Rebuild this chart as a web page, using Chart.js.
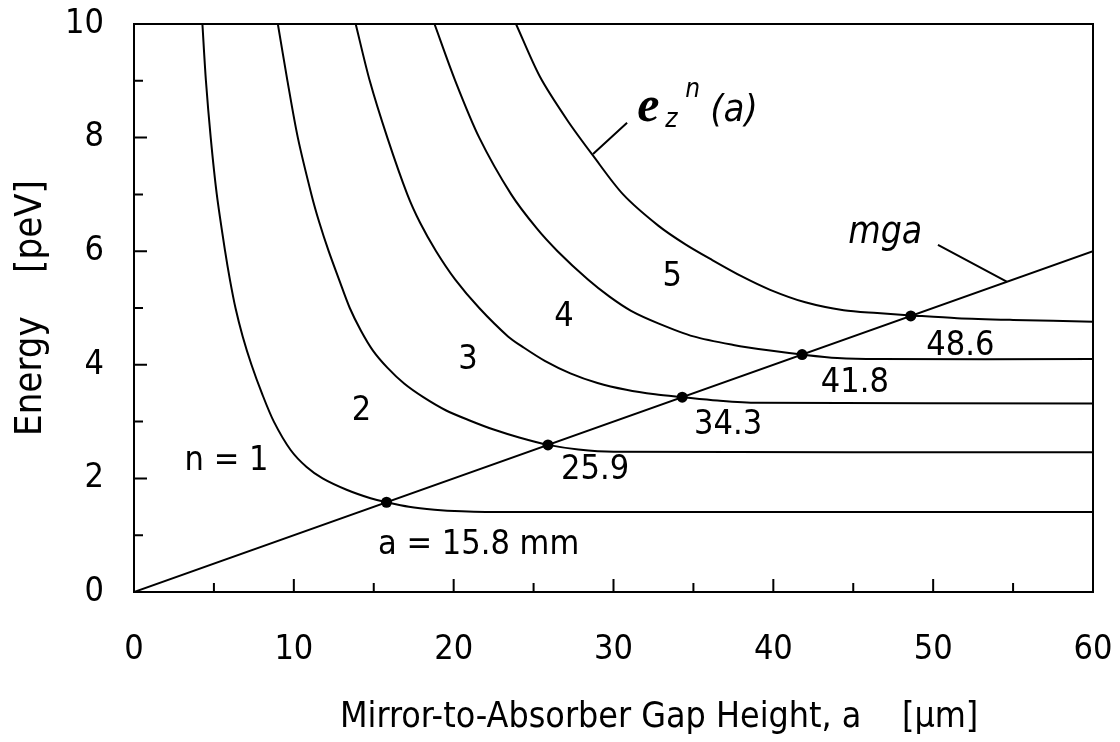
<!DOCTYPE html>
<html>
<head>
<meta charset="utf-8">
<script src="https://cdn.jsdelivr.net/npm/chart.js@4.4.0/dist/chart.umd.min.js"></script>
<style>
  body { margin: 0; background: #fff; }
  #wrap { width: 1120px; height: 742px; }
</style>
</head>
<body>
<div id="wrap"><canvas id="myChart" width="1120" height="742"></canvas></div>
<script>
// energy levels e_z^n(a), gap height a [um] vs energy [peV]
const level1A = [4.28, 4.5, 4.8, 5.18, 5.7, 6.0, 6.35, 6.8, 7.35, 8.0, 8.75, 9.8, 10.8, 11.8, 13.3, 14.8, 15.8, 17.2, 18.8, 20.5, 22.0, 60];
const level1E = [10, 9, 8, 7, 6, 5.5, 5, 4.5, 4, 3.5, 3, 2.5, 2.2, 2.0, 1.8, 1.65, 1.58, 1.5, 1.45, 1.42, 1.41, 1.41];

const level2A = [9.0, 9.6, 10.25, 11.1, 11.6, 12.18, 12.83, 13.5, 14.2, 14.95, 15.85, 16.9, 18.1, 19.5, 21.0, 22.5, 24.1, 25.9, 27.8, 30.0, 60];
const level2E = [10, 9, 8, 7, 6.5, 6, 5.5, 5.0, 4.6, 4.25, 3.95, 3.67, 3.43, 3.2, 3.02, 2.86, 2.72, 2.59, 2.51, 2.47, 2.46];

const level3A = [13.87, 14.75, 15.85, 17.1, 17.9, 18.9, 20.1, 21.6, 23.4, 24.4, 25.7, 27.3, 29.0, 30.8, 32.6, 34.3, 36.5, 39.0, 60];
const level3E = [10, 9, 8, 7, 6.5, 6, 5.5, 5.0, 4.5, 4.3, 4.07, 3.85, 3.68, 3.56, 3.48, 3.43, 3.37, 3.33, 3.32];

const level4A = [18.8, 20.1, 21.6, 23.6, 25.2, 26.5, 28.4, 29.75, 31.1, 32.8, 35.0, 37.5, 39.8, 41.8, 44.0, 46.5, 60];
const level4E = [10, 9, 8, 7, 6.4, 6, 5.5, 5.2, 4.95, 4.73, 4.5, 4.35, 4.25, 4.18, 4.12, 4.1, 4.1];

const level5A = [23.9, 25.4, 27.1, 28.7, 30.6, 32.8, 34.5, 36.2, 38.0, 39.8, 42.0, 44.4, 46.5, 48.6, 51.5, 55.0, 60];
const level5E = [10, 9.07, 8.31, 7.69, 7.0, 6.45, 6.12, 5.84, 5.56, 5.32, 5.1, 4.96, 4.91, 4.87, 4.82, 4.79, 4.76];

// gravitational potential mga
const mgaA = [0, 60];
const mgaE = [0, 6];

// crossing points
const crossA = [15.8, 25.9, 34.3, 41.8, 48.6];
const crossE = [1.58, 2.59, 3.43, 4.18, 4.86];
const crossLabels = ["a = 15.8 mm", "25.9", "34.3", "41.8", "48.6"];

const levelNames = ["n = 1", "2", "3", "4", "5"];

const xTicks = [0, 10, 20, 30, 40, 50, 60];
const yTicks = [0, 2, 4, 6, 8, 10];

const FONT = "'DejaVu Sans Condensed', 'DejaVu Sans', sans-serif";

function pts(xs, ys) {
  return xs.map((x, i) => ({ x: x, y: ys[i] }));
}

function curve(xs, ys) {
  return {
    data: pts(xs, ys),
    showLine: true,
    borderColor: "#000",
    borderWidth: 2,
    pointRadius: 0,
    tension: 0.3,
    fill: false,
  };
}

const datasets = [
  curve(level1A, level1E),
  curve(level2A, level2E),
  curve(level3A, level3E),
  curve(level4A, level4E),
  curve(level5A, level5E),
  {
    data: pts(mgaA, mgaE),
    showLine: true,
    borderColor: "#000",
    borderWidth: 2,
    pointRadius: 0,
  },
  {
    data: pts(crossA, crossE),
    showLine: false,
    pointRadius: 5.5,
    pointBackgroundColor: "#000",
    pointBorderWidth: 0,
  },
];

// where the text labels sit, in data units
const levelPos = [[5.79, 2.31], [14.24, 3.19], [20.9, 4.09], [26.9, 4.84], [33.67, 5.54]];
const crossPos = [[21.56, 0.83], [28.85, 2.14], [37.17, 2.94], [45.1, 3.68], [51.7, 4.33]];

const framePlugin = {
  id: "frame",
  afterDatasetsDraw(chart) {
    const { ctx, chartArea: ca, scales } = chart;
    const xs = scales.x;
    const ys = scales.y;
    ctx.save();
    ctx.strokeStyle = "#000";
    ctx.lineWidth = 2;
    ctx.strokeRect(ca.left, ca.top, ca.right - ca.left, ca.bottom - ca.top);

    // inward ticks
    ctx.beginPath();
    for (let v = 0; v <= 60; v += 5) {
      const px = xs.getPixelForValue(v);
      const len = v % 10 === 0 ? 13 : 9;
      ctx.moveTo(px, ca.bottom);
      ctx.lineTo(px, ca.bottom - len);
    }
    for (let v = 0; v <= 10; v += 1) {
      const py = ys.getPixelForValue(v);
      const len = v % 2 === 0 ? 13 : 9;
      ctx.moveTo(ca.left, py);
      ctx.lineTo(ca.left + len, py);
    }
    ctx.stroke();

    // leader lines
    ctx.lineWidth = 2;
    ctx.beginPath();
    ctx.moveTo(xs.getPixelForValue(30.85), ys.getPixelForValue(8.26));
    ctx.lineTo(xs.getPixelForValue(28.72), ys.getPixelForValue(7.71));
    ctx.moveTo(xs.getPixelForValue(50.3), ys.getPixelForValue(6.11));
    ctx.lineTo(xs.getPixelForValue(54.63), ys.getPixelForValue(5.46));
    ctx.stroke();

    ctx.fillStyle = "#000";
    ctx.textAlign = "center";
    ctx.textBaseline = "middle";
    ctx.font = "34px " + FONT;
    levelNames.forEach((t, i) => {
      ctx.fillText(t, xs.getPixelForValue(levelPos[i][0]), ys.getPixelForValue(levelPos[i][1]));
    });
    crossLabels.forEach((t, i) => {
      ctx.fillText(t, xs.getPixelForValue(crossPos[i][0]), ys.getPixelForValue(crossPos[i][1]));
    });

    ctx.font = "italic 37px " + FONT;
    ctx.fillText("mga", xs.getPixelForValue(47.0), ys.getPixelForValue(6.32));

    // e_z^n (a)
    ctx.textAlign = "left";
    ctx.textBaseline = "alphabetic";
    const bx = xs.getPixelForValue(31.48);
    const by = ys.getPixelForValue(8.29);
    ctx.font = "italic bold 50px 'Liberation Serif', serif";
    ctx.fillText("e", bx, by);
    ctx.font = "italic 26px " + FONT;
    ctx.fillText("z", bx + 28, by + 6);
    ctx.fillText("n", bx + 48, by - 24);
    ctx.font = "italic 38px " + FONT;
    ctx.fillText("(a)", bx + 73, by);
    ctx.restore();
  },
};

function noPad(s) {
  s.paddingTop = 0;
  s.paddingBottom = 0;
  s.paddingLeft = 0;
  s.paddingRight = 0;
}

const config = {
  type: "scatter",
  data: { datasets: datasets },
  options: {
    animation: false,
    responsive: false,
    layout: { padding: { top: 24, right: 27, left: 0, bottom: 0 } },
    plugins: { legend: { display: false }, tooltip: { enabled: false } },
    scales: {
      x: {
        type: "linear",
        min: 0,
        max: 60,
        grid: { display: false, drawTicks: false },
        border: { display: false },
        afterBuildTicks: (s) => { s.ticks = xTicks.map((v) => ({ value: v })); },
        ticks: { padding: 38, color: "#000", font: { family: FONT, size: 34 } },
        title: {
          display: true,
          text: "         Mirror-to-Absorber Gap Height, a    [\u03bcm]",
          color: "#000",
          font: { family: FONT, size: 35.5, lineHeight: 1.2 },
          padding: { top: 0, bottom: 3 },
        },
        afterFit: (s) => { s.height = 150; noPad(s); },
      },
      y: {
        type: "linear",
        min: 0,
        max: 10,
        grid: { display: false, drawTicks: false },
        border: { display: false },
        afterBuildTicks: (s) => { s.ticks = yTicks.map((v) => ({ value: v })); },
        ticks: { padding: 30, color: "#000", font: { family: FONT, size: 34 } },
        title: {
          display: true,
          text: "Energy    [peV]",
          color: "#000",
          font: { family: FONT, size: 38, lineHeight: 1.2 },
          padding: { top: 8, bottom: 0 },
        },
        afterFit: (s) => { s.width = 134; noPad(s); },
      },
    },
  },
  plugins: [framePlugin],
};

new Chart(document.getElementById("myChart"), config);
</script>
</body>
</html>
